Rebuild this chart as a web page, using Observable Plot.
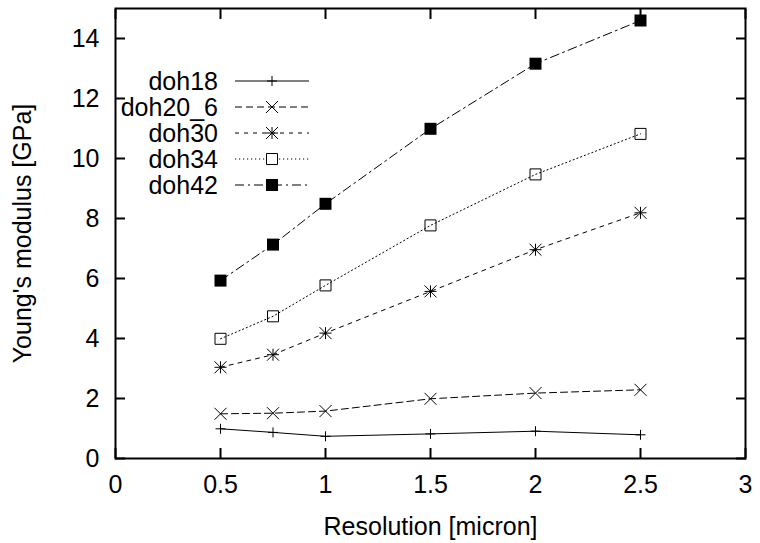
<!DOCTYPE html>
<html>
<head>
<meta charset="utf-8">
<script src="https://cdn.jsdelivr.net/npm/d3@7"></script>
<script src="https://cdn.jsdelivr.net/npm/@observablehq/plot@0.6"></script>
<style>
  html, body { margin: 0; padding: 0; background: #fff; }
  #chart { width: 760px; height: 543px; }
</style>
</head>
<body>
<div id="chart"></div>
<script>
// ---- data ----
const resolution = [0.5, 0.75, 1, 1.5, 2, 2.5];
const seriesNames = ["doh18", "doh20_6", "doh30", "doh34", "doh42"];
const doh18   = [0.99, 0.87, 0.74, 0.82, 0.91, 0.79];
const doh20_6 = [1.49, 1.51, 1.58, 1.99, 2.18, 2.29];
const doh30   = [3.04, 3.46, 4.18, 5.57, 6.96, 8.19];
const doh34   = [3.99, 4.74, 5.77, 7.77, 9.47, 10.82];
const doh42   = [5.93, 7.13, 8.49, 10.99, 13.16, 14.60];
const xTicks = [0, 0.5, 1, 1.5, 2, 2.5, 3];
const xTickLabels = ["0", "0.5", "1", "1.5", "2", "2.5", "3"];
const yTicks = [0, 2, 4, 6, 8, 10, 12, 14];
const yTickLabels = ["0", "2", "4", "6", "8", "10", "12", "14"];
const xLabel = "Resolution [micron]";
const yLabel = "Young's modulus [GPa]";

// ---- styles ----
const half = s => Math.sqrt(s / Math.PI);
const symPlus = {draw(c, s) {const h = half(s); c.moveTo(-h, 0); c.lineTo(h, 0); c.moveTo(0, -h); c.lineTo(0, h);}};
const symTimes = {draw(c, s) {const h = half(s); c.moveTo(-h, -h); c.lineTo(h, h); c.moveTo(-h, h); c.lineTo(h, -h);}};
const symAsterisk = {draw(c, s) {symPlus.draw(c, s); symTimes.draw(c, s);}};
const symSquare = {draw(c, s) {const h = half(s); c.moveTo(-h, -h); c.lineTo(h, -h); c.lineTo(h, h); c.lineTo(-h, h); c.closePath();}};

const seriesValues = [doh18, doh20_6, doh30, doh34, doh42];
const styles = [
  {symbol: symPlus,     r: 5,   fill: "none",  dash: null},
  {symbol: symTimes,    r: 6,   fill: "none",  dash: "7,4"},
  {symbol: symAsterisk, r: 6,   fill: "none",  dash: "4,5"},
  {symbol: symSquare,   r: 5.5, fill: "none",  dash: "1.2,2.8"},
  {symbol: symSquare,   r: 6,   fill: "black", dash: "9,4,2,4"}
];

const rows = seriesNames.map((name, k) =>
  resolution.map((x, i) => ({series: name, x, y: seriesValues[k][i]}))
);

const fx = d => xTickLabels[xTicks.indexOf(d)];
const fy = d => yTickLabels[yTicks.indexOf(d)];

const marks = [
  Plot.frame({stroke: "black", strokeWidth: 2}),
  Plot.axisX({anchor: "bottom", ticks: xTicks, tickSize: -10, tickPadding: 27, strokeWidth: 2,
              tickFormat: fx, label: xLabel, labelAnchor: "center", labelOffset: 76, labelArrow: "none"}),
  Plot.axisX({anchor: "top", ticks: xTicks, tickSize: -10, strokeWidth: 2, tickFormat: () => "", label: null}),
  Plot.axisY({anchor: "left", ticks: yTicks, tickSize: -10, tickPadding: 26, strokeWidth: 2,
              tickFormat: fy, label: yLabel, labelAnchor: "center", labelOffset: 102, labelArrow: "none"}),
  Plot.axisY({anchor: "right", ticks: yTicks, tickSize: -10, strokeWidth: 2, tickFormat: () => "", label: null})
];
rows.forEach((data, k) => {
  const st = styles[k];
  marks.push(Plot.line(data, {x: "x", y: "y", stroke: "black", strokeWidth: 1, strokeDasharray: st.dash}));
});
rows.forEach((data, k) => {
  const st = styles[k];
  marks.push(Plot.dot(data, {x: "x", y: "y", symbol: st.symbol, r: st.r,
    fill: st.fill, stroke: st.fill === "none" ? "black" : "none", strokeWidth: 1}));
});

const chart = Plot.plot({
  width: 760,
  height: 543,
  marginLeft: 115,
  marginRight: 15,
  marginTop: 8,
  marginBottom: 85,
  x: {domain: [0, 3]},
  y: {domain: [0, 15]},
  style: {fontFamily: "'Liberation Sans', Arial, Helvetica, sans-serif", fontSize: "25px", background: "white", color: "black"},
  marks
});

// ---- legend (inside the frame, upper left) ----
const svg = d3.select(chart);
const lg = svg.append("g").attr("class", "legend");
seriesNames.forEach((name, k) => {
  const st = styles[k];
  const yy = 81 + 26 * k;
  lg.append("text").attr("x", 218).attr("y", yy).attr("dy", "0.35em")
    .attr("text-anchor", "end").attr("fill", "black").text(name);
  lg.append("line").attr("x1", 235).attr("x2", 309).attr("y1", yy).attr("y2", yy)
    .attr("stroke", "black").attr("stroke-width", 1)
    .attr("stroke-dasharray", st.dash);
  lg.append("path").attr("transform", `translate(272,${yy})`)
    .attr("d", d3.symbol(st.symbol, Math.PI * st.r * st.r)())
    .attr("fill", st.fill === "none" ? "white" : st.fill)
    .attr("stroke", st.fill === "none" ? "black" : "none").attr("stroke-width", 1);
});

document.getElementById("chart").appendChild(chart);
</script>
</body>
</html>
